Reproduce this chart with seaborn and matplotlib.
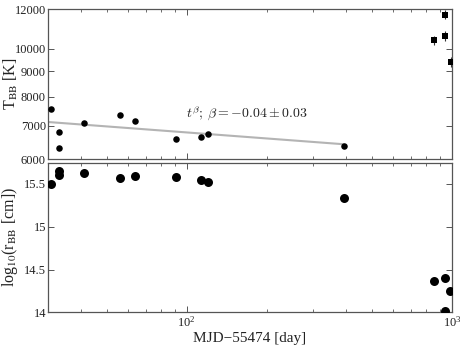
import matplotlib
matplotlib.use("Agg")
import matplotlib.pyplot as plt
import matplotlib.ticker as mticker
import numpy as np
import pandas as pd
import seaborn as sns

# ---- data ----
t_early = [30.9, 33.0, 33.0, 41.0, 56.0, 63.8, 91.1, 112.9, 120.0, 391.0]
T_early = [7560, 6810, 6320, 7090, 7350, 7155, 6585, 6635, 6730, 6380]

t_late = [857, 938, 945, 995]
T_late = [10400, 11700, 10600, 9400]
T_late_err = [220, 260, 230, 200]

fit_t = [30.0, 391.0]
fit_T = [7121, 6425]
fit_label = r"$t^{\beta};\, \beta = -0.04 \pm 0.03$"

t_r = [30.9, 33.0, 33.0, 41.0, 56.0, 63.8, 91.1, 112.9, 120.0, 391.0, 857, 938, 945, 985]
logr = [15.50, 15.655, 15.60, 15.63, 15.573, 15.593, 15.585, 15.546, 15.52, 15.34,
        14.373, 14.016, 14.40, 14.255]

T_ticks = [6000, 7000, 8000, 9000, 10000, 12000]
r_ticks = [14, 14.5, 15, 15.5]
r_tick_labels = ["14", "14.5", "15", "15.5"]

sns.set_style("ticks")
plt.rcParams["font.family"] = ["Liberation Serif", "DejaVu Serif"]
plt.rcParams["mathtext.fontset"] = "stix"

fig = plt.figure(figsize=(4.63, 3.49), dpi=100)
gs = fig.add_gridspec(2, 1, left=0.1037, right=0.976, top=0.974, bottom=0.1046, hspace=0.023)
ax1 = fig.add_subplot(gs[0])
ax2 = fig.add_subplot(gs[1], sharex=ax1)

df_e = pd.DataFrame({"t": t_early, "T": T_early})
df_l = pd.DataFrame({"t": t_late, "T": T_late, "err": T_late_err})
df_f = pd.DataFrame({"t": fit_t, "T": fit_T})
df_r = pd.DataFrame({"t": t_r, "r": logr})

ax1.set_xscale("log")
ax1.set_yscale("log")

sns.lineplot(data=df_f, x="t", y="T", ax=ax1, color="#b4b4b4", linewidth=1.5, zorder=1)
sns.scatterplot(data=df_e, x="t", y="T", ax=ax1, color="black", s=22, edgecolor="black",
                linewidth=0, zorder=3)
ax1.errorbar(df_l["t"], df_l["T"], yerr=df_l["err"], fmt="none", ecolor="#333333",
             elinewidth=0.8, capsize=0, zorder=2)
sns.scatterplot(data=df_l, x="t", y="T", ax=ax1, color="black", marker="s", s=16,
                edgecolor="black", linewidth=0, zorder=3)

ax1.text(169, 7440, fit_label, ha="center", va="center", fontsize=10,
         math_fontfamily="cm", color="#222222")

sns.scatterplot(data=df_r, x="t", y="r", ax=ax2, color="black", s=42, edgecolor="black",
                linewidth=0, zorder=3)

ax1.set_xlim(30, 1000)
ax1.set_ylim(6000, 12000)
ax2.set_ylim(14, 15.75)

ax1.yaxis.set_major_locator(mticker.FixedLocator(T_ticks))
ax1.yaxis.set_major_formatter(mticker.FixedFormatter([str(v) for v in T_ticks]))
ax1.yaxis.set_minor_locator(mticker.NullLocator())
ax2.yaxis.set_major_locator(mticker.FixedLocator(r_ticks))
ax2.yaxis.set_major_formatter(mticker.FixedFormatter(r_tick_labels))

ax2.xaxis.set_major_locator(mticker.LogLocator(base=10))
ax2.xaxis.set_minor_locator(mticker.LogLocator(base=10, subs=np.arange(2, 10)))
ax2.xaxis.set_minor_formatter(mticker.NullFormatter())
plt.setp(ax1.get_xticklabels(), visible=False)

for ax in (ax1, ax2):
    for sp in ax.spines.values():
        sp.set_visible(True)
        sp.set_color("#555555")
        sp.set_linewidth(0.9)
    ax.tick_params(which="both", direction="in", top=True, right=True,
                   color="#555555", labelcolor="#222222", labelsize=9, pad=1.5)
    ax.tick_params(which="major", length=4, width=0.7)
    ax.tick_params(which="minor", length=2.5, width=0.6)
    ax.set_xlabel("")
    ax.set_ylabel("")

ax1.set_ylabel(r"T$_{\rm BB}$ [K]", fontsize=11.5, color="#222222")
ax2.set_ylabel(r"log$_{10}$(r$_{\rm BB}$ [cm])", fontsize=11.5, color="#222222")
ax1.yaxis.set_label_coords(-0.07, 0.5)
ax2.yaxis.set_label_coords(-0.07, 0.5)
ax2.set_xlabel("MJD\u221255474 [day]", fontsize=11, color="#222222", labelpad=2)

fig.savefig("out.png", dpi=100)
